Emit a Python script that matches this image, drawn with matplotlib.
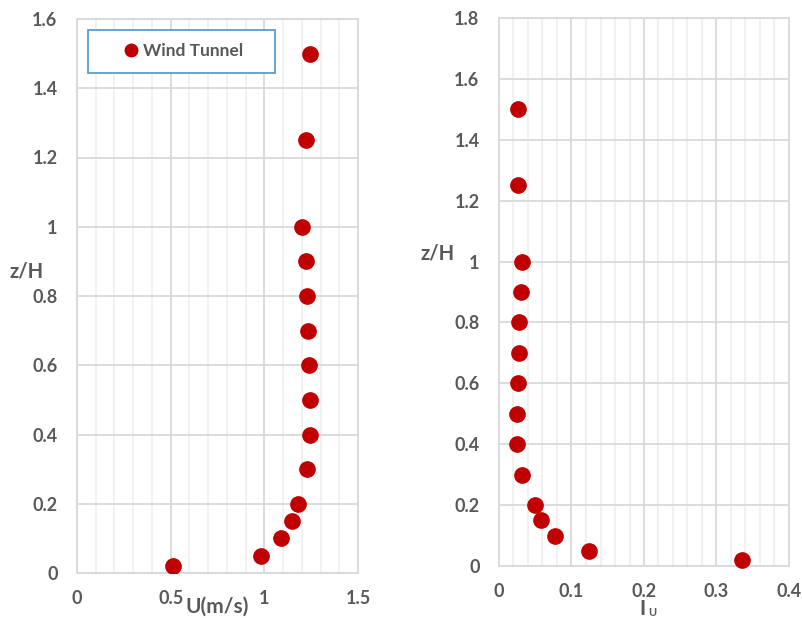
import matplotlib
matplotlib.use("Agg")
import matplotlib.pyplot as plt
from matplotlib.ticker import MultipleLocator
from matplotlib.patches import Rectangle

z_H = [0.02, 0.05, 0.1, 0.15, 0.2, 0.3, 0.4, 0.5, 0.6, 0.7, 0.8, 0.9, 1.0, 1.25, 1.5]
U = [0.513, 0.981, 1.089, 1.146, 1.180, 1.228, 1.242, 1.242, 1.237, 1.233, 1.230, 1.223, 1.199, 1.224, 1.244]
I_U = [0.335, 0.124, 0.077, 0.058, 0.049, 0.032, 0.025, 0.025, 0.026, 0.0276, 0.028, 0.030, 0.0317, 0.0266, 0.0266]

left_xticks = [0, 0.5, 1, 1.5]
left_xticklabels = ["0", "0.5", "1", "1.5"]
left_yticks = [0, 0.2, 0.4, 0.6, 0.8, 1.0, 1.2, 1.4, 1.6]
left_yticklabels = ["0", "0.2", "0.4", "0.6", "0.8", "1", "1.2", "1.4", "1.6"]
right_xticks = [0, 0.1, 0.2, 0.3, 0.4]
right_xticklabels = ["0", "0.1", "0.2", "0.3", "0.4"]
right_yticks = [0, 0.2, 0.4, 0.6, 0.8, 1.0, 1.2, 1.4, 1.6, 1.8]
right_yticklabels = ["0", "0.2", "0.4", "0.6", "0.8", "1", "1.2", "1.4", "1.6", "1.8"]

series_name = "Wind Tunnel"

RED = "#C00000"
GRAY = "#595959"
MAJ = "#D9D9D9"
MIN = "#F0F0F0"
FONT = "Lato"

W, H = 803, 618
fig = plt.figure(figsize=(W / 100, H / 100), dpi=100)

def px_axes(l, r, t, b):
    return fig.add_axes([l / W, 1 - b / H, (r - l) / W, (b - t) / H])

def style(ax, xmin_, xt, xtl, yt, ytl, xlim, ylim):
    ax.set_xlim(*xlim)
    ax.set_ylim(*ylim)
    ax.set_xticks(xt)
    ax.set_xticklabels(xtl)
    ax.set_yticks(yt)
    ax.set_yticklabels(ytl)
    ax.xaxis.set_minor_locator(MultipleLocator(xmin_))
    ax.grid(True, which="major", color=MAJ, lw=1.3, zorder=0)
    ax.grid(True, which="minor", axis="x", color=MIN, lw=1.3, zorder=0)
    ax.set_axisbelow(True)
    for s in ax.spines.values():
        s.set_color(MAJ)
        s.set_linewidth(1.3)
    ax.tick_params(which="both", length=0)
    ax.tick_params(axis="x", pad=12)
    ax.tick_params(axis="y", pad=14)
    for lab in ax.get_xticklabels() + ax.get_yticklabels():
        lab.set_fontfamily(FONT)
        lab.set_fontweight("bold")
        lab.set_fontsize(13)
        lab.set_color(GRAY)

def label(x, y, s, size=14.5):
    fig.text(x / W, 1 - y / H, s, ha="center", va="center", fontfamily=FONT,
             fontweight="bold", fontsize=size, color=GRAY)

# Left axes
ax1 = px_axes(77, 358, 19, 573)
style(ax1, 0.1, left_xticks, left_xticklabels, left_yticks, left_yticklabels, (0, 1.5), (0, 1.6))
ax1.plot(U, z_H, "o", color=RED, ms=11, zorder=3, label=series_name)
label(27, 272, "z/H")
label(217, 607, "U(m/s)", 15)

# legend box
ax1.add_patch(Rectangle((88 / W, 1 - 73 / H), (275 - 88) / W, (73 - 30) / H,
                        transform=fig.transFigure, facecolor="white",
                        edgecolor="#5B9BD5", lw=1.3, zorder=5, clip_on=False))
leg = ax1.legend(loc="center", bbox_to_anchor=(((88 + 275) / 2 - 77) / 281, 1 - (51.5 - 19) / 554),
                 frameon=False, handletextpad=0.1, handlelength=1.2,
                 prop={"family": FONT, "weight": "bold", "size": 12.5})
leg.set_zorder(6)
for t in leg.get_texts():
    t.set_color(GRAY)
leg.legend_handles[0].set_markersize(9)

# Right axes
ax2 = px_axes(499, 789, 18, 566)
style(ax2, 0.02, right_xticks, right_xticklabels, right_yticks, right_yticklabels, (0, 0.4), (0, 1.8))
ax2.plot(I_U, z_H, "o", color=RED, ms=11, zorder=3, clip_on=False)
label(438, 254, "z/H")
label(643, 609, "I", 15)
label(652, 613, "U", 8)

fig.savefig("out.png", dpi=100, facecolor="white")
